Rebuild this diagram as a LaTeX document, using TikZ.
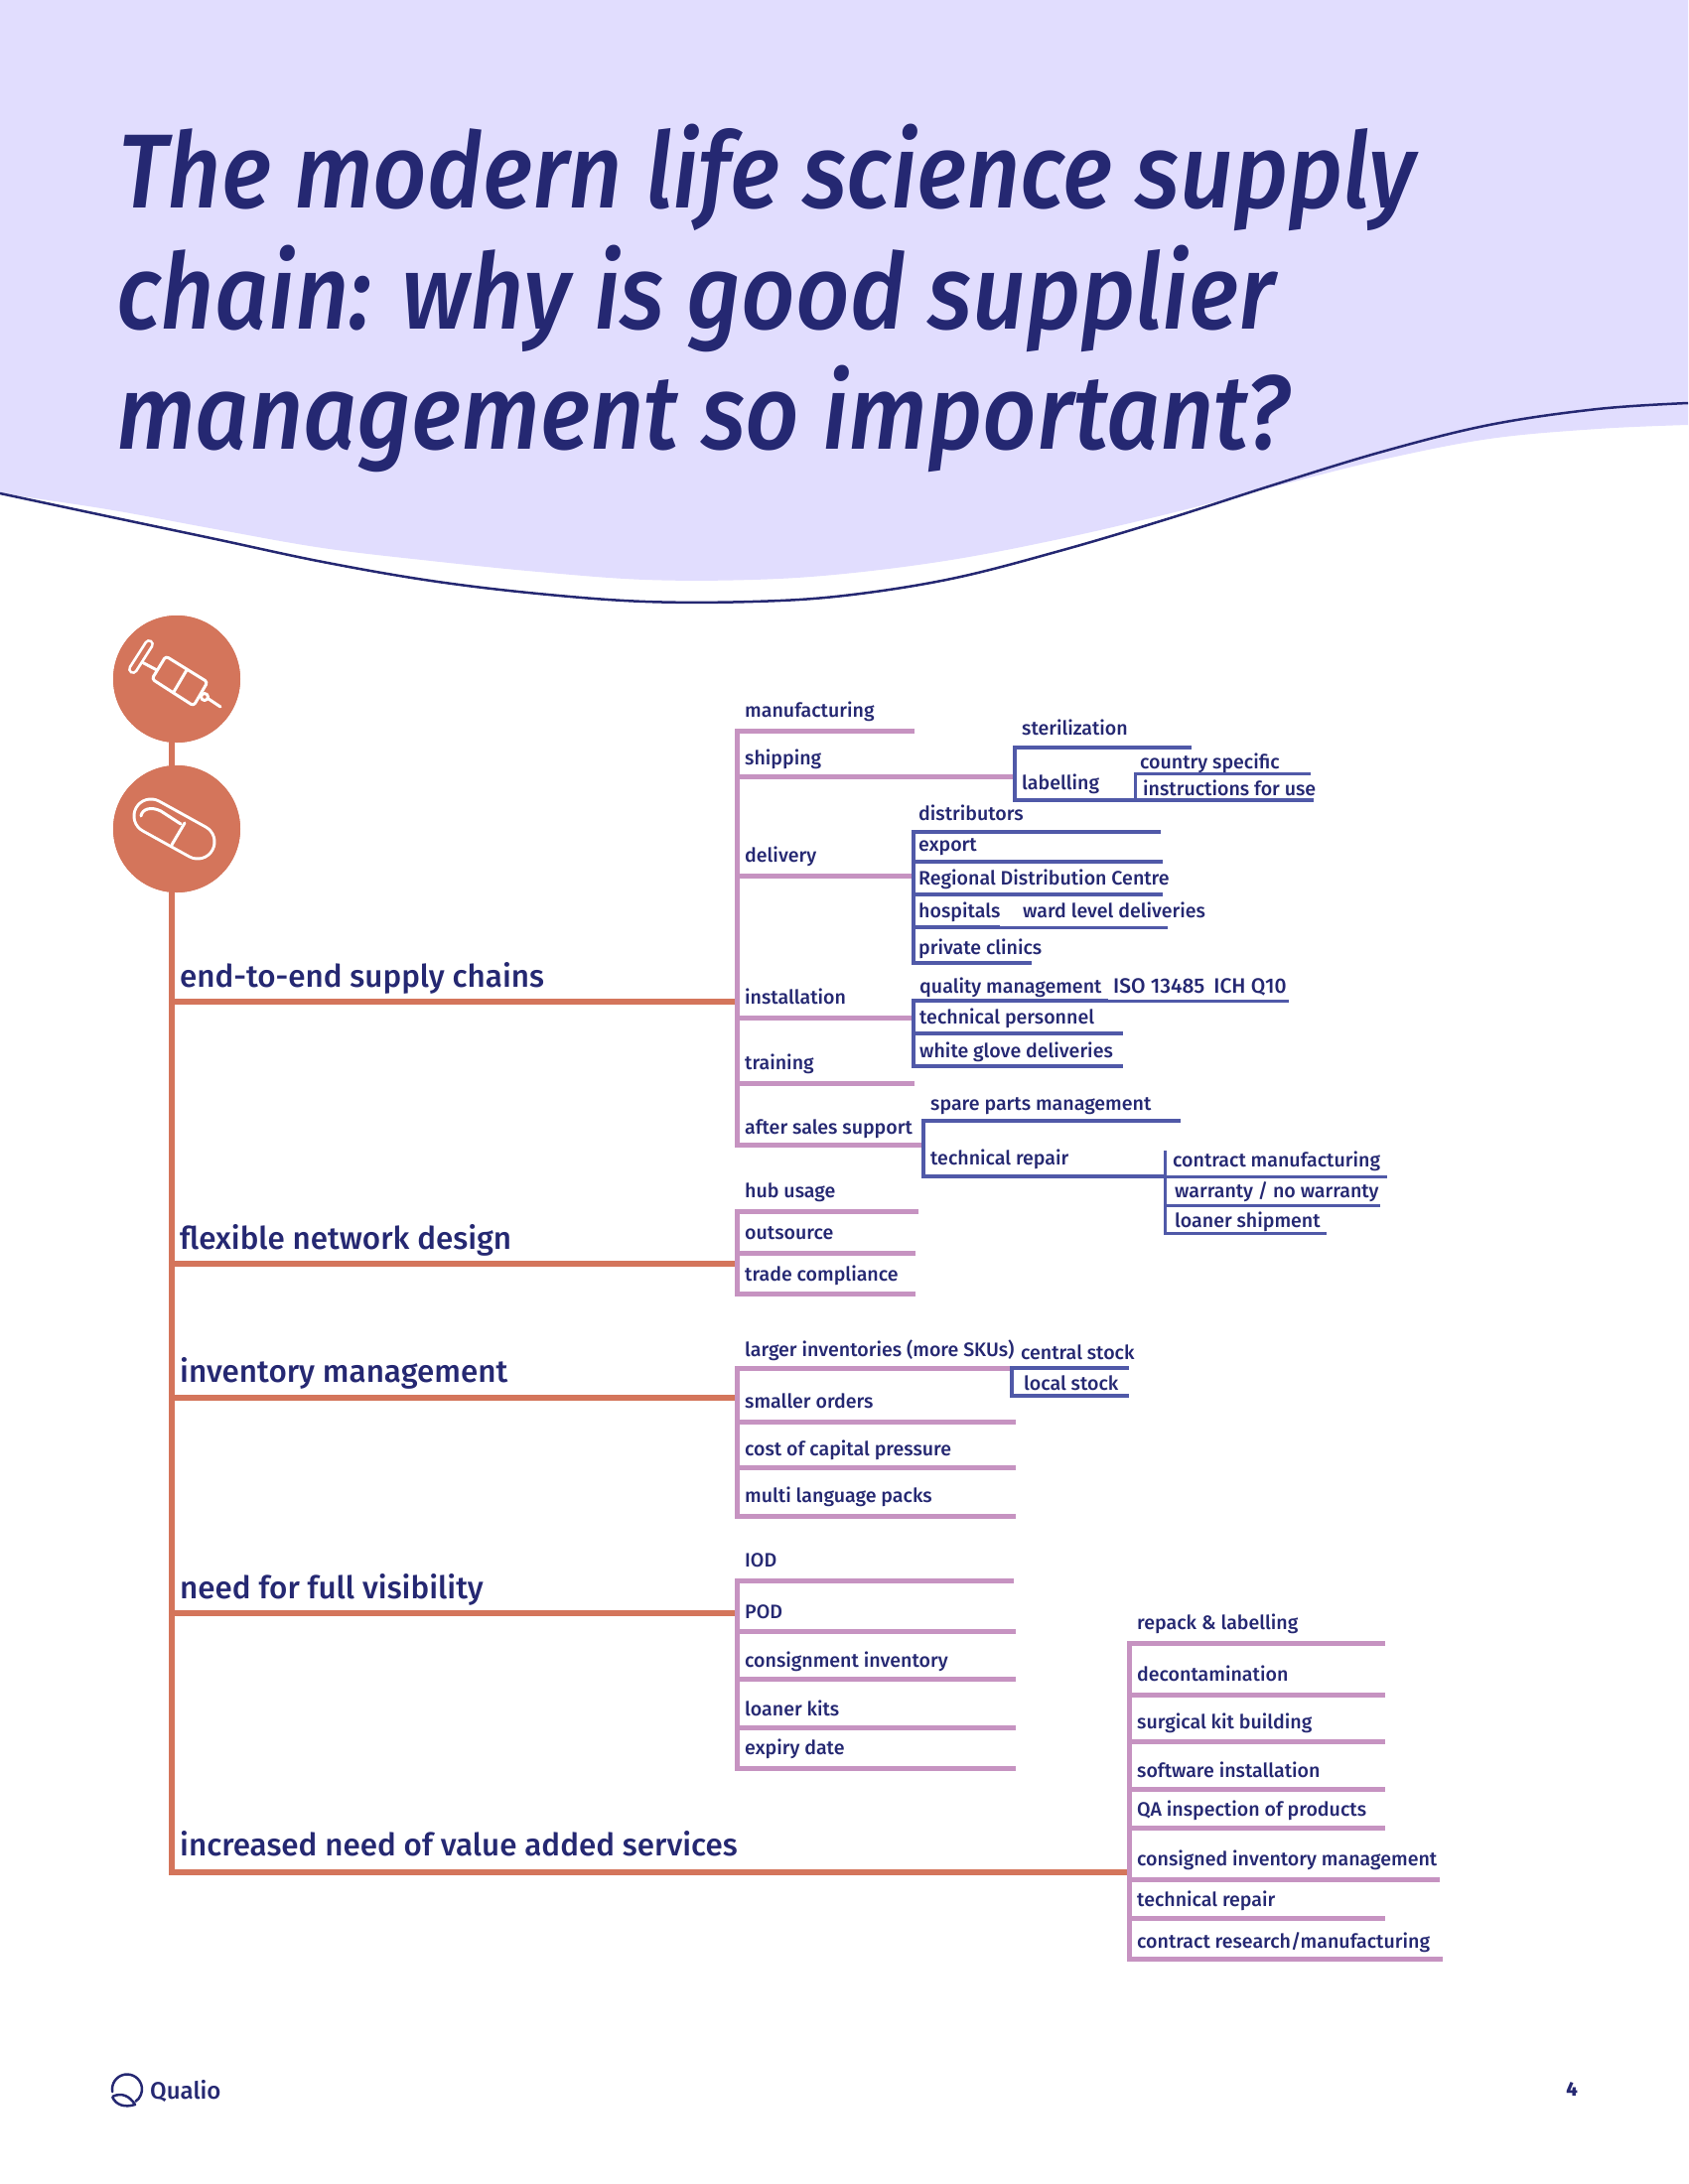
\documentclass[tikz,border=0pt]{standalone}
\usepackage{fontspec}
\setmainfont{Fira Sans Medium}
\newfontfamily\titlef[ItalicFont={Fira Sans Medium Italic},FakeStretch=0.896]{Fira Sans Medium}
\definecolor{lav}{HTML}{E1DDFE}
\definecolor{ink}{HTML}{252872}
\definecolor{org}{HTML}{D4755B}
\definecolor{pur}{HTML}{C693C1}
\definecolor{blu}{HTML}{5059A8}
\tikzset{
  lbl/.style={anchor=base west,inner sep=0pt,text=ink,yshift=0.7pt,font=\fontsize{19.6}{24}\selectfont},
  head/.style={anchor=base west,inner sep=0pt,text=ink,font=\fontsize{31.4}{38}\selectfont},
  ttl/.style={anchor=base west,inner sep=0pt,text=ink,font=\titlef\fontsize{106}{120}\selectfont\itshape},
  po/.style={draw=pur,line width=5pt},
  bl/.style={draw=blu,line width=4.5pt},
  th/.style={draw=blu,line width=3pt},
  orl/.style={draw=org,line width=5.5pt},
  ic/.style={draw=white,line width=3pt,line cap=round,line join=round},
}
% style, name, text x, baseline, text, line x0, line y, line x1
\newcommand\twig[8]{%
  \node[lbl] (#2) at (#3,#4) {#5};
  \coordinate (#2-a) at (#6,#7);
  \coordinate (#2-b) at (#8,#7);
  \draw[#1] (#2-a) -- (#2-b);}
\newcommand\spine[3]{\draw[#1,line cap=rect] (#2) -- (#3);}
\begin{document}
\begin{tikzpicture}[x=1pt,y=-1pt]
\useasboundingbox (0,0) rectangle (1700,2200);
\fill[white] (0,0) rectangle (1700,2200);
% header
\fill[lav] (0,0) -- (0,497) -- plot[smooth,tension=0.6] coordinates {(0,497) (108,513) (217,533) (325,552) (434,565) (542,576) (650,584) (758,584) (850,578) (958,564) (1067,543) (1175,518) (1284,490) (1392,463) (1500,442) (1609,432) (1700,428)} -- (1700,0) -- cycle;
\draw[ink,line width=2.5pt] plot[smooth,tension=0.6] coordinates {(0,497) (108,520) (217,543) (325,566) (434,585) (542,598) (650,606) (758,606) (850,600) (958,583) (1067,555) (1175,523) (1284,488) (1392,455) (1500,428) (1609,412) (1700,406)};
\node[ttl] (t1) at (119,209) {The modern life science supply};
\node[ttl] (t2) at (117,331) {chain: why is good supplier};
\node[ttl] (t3) at (117,452) {management so important?};
% trunk
\node[circle,fill=org,minimum size=128pt,inner sep=0pt] (c1) at (178,684) {};
\node[circle,fill=org,minimum size=128pt,inner sep=0pt] (c2) at (178,835) {};
\coordinate (trunk-top) at (173,700);
\coordinate (b1) at (173,1009);
\coordinate (b2) at (173,1273);
\coordinate (b3) at (173,1408);
\coordinate (b4) at (173,1625);
\coordinate (b5) at (173,1886);
\draw[orl,line cap=rect] (trunk-top) -- (b5);
\fill[org] (c1.center) circle (64);
\fill[org] (c2.center) circle (64);
% syringe
\draw[ic,rounded corners=3pt] (167,661) -- (209,687) -- (195,711) -- (153,684) -- cycle;
\draw[ic] (188,675) -- (175,697);
\draw[ic] (143,667) -- (158,675);
\draw[white,line width=10pt,line cap=round] (150,649) -- (134,674);
\draw[org,line width=4.5pt,line cap=round] (150,649) -- (134,674);
\draw[ic] (206,702) circle (3.5);
\draw[ic] (210,704) -- (222,712);
% capsule
\draw[white,line width=37pt,line cap=round] (152,822) -- (199,848);
\draw[org,line width=31pt,line cap=round] (152,822) -- (199,848);
\draw[ic] (186,829) -- (173,851);
\draw[ic] (142,822) .. controls (143,815) and (152,812) .. (162,817) -- (182,830);
\begin{scope}[shift={(1,1)}]
% heads
\node[head] (h1) at (180,993) {end-to-end supply chains};
\node[head] (h2) at (180,1257) {flexible network design};
\node[head] (h3) at (180,1391) {inventory management};
\node[head] (h4) at (180,1609) {need for full visibility};
\node[head] (h5) at (180,1868) {increased need of value added services};
\coordinate (j1) at (741,1008);
\coordinate (j2) at (741,1272);
\coordinate (j3) at (741,1407);
\coordinate (j4) at (741,1624);
\coordinate (j5) at (1136,1885);
\draw[orl] (b1) -- (j1);
\draw[orl] (b2) -- (j2);
\draw[orl] (b3) -- (j3);
\draw[orl] (b4) -- (j4);
\draw[orl] (b5) -- (j5);
% group 1
\twig{po}{a1}{749}{722}{manufacturing}{741}{735}{920}
\twig{po}{a2}{749}{770}{shipping}{741}{781}{1021}
\twig{po}{a3}{749}{868}{delivery}{741}{881}{919}
\twig{po}{a4}{749}{1011}{installation}{741}{1024}{919}
\twig{po}{a5}{749}{1077}{training}{741}{1090}{920}
\twig{po}{a6}{749}{1142}{after sales support}{741}{1152}{929}
\spine{po}{a1-a}{a6-a}
% shipping
\twig{bl}{s1}{1028}{740}{sterilization}{1021}{752}{1199}
\twig{bl}{s2}{1028}{795}{labelling}{1021}{805}{1322}
\spine{bl}{s1-a}{s2-a}
\twig{th}{s3}{1147}{774}{country specific}{1142}{778}{1319}
\node[lbl] (s4) at (1150,801) {instructions for use};
\coordinate (s4-a) at (1142,805);
\spine{th}{s3-a}{s4-a}
% delivery
\twig{bl}{d1}{924}{826}{distributors}{919}{837}{1168}
\twig{bl}{d2}{924}{857}{export}{919}{867}{1170}
\twig{bl}{d3}{924}{891}{Regional Distribution Centre}{919}{900}{1170}
\twig{bl}{d4}{924}{924}{hospitals}{919}{933}{1006}
\twig{th}{d5}{1029}{924}{ward level deliveries}{1006}{933}{1175}
\twig{bl}{d6}{924}{961}{private clinics}{919}{969}{1038}
\spine{bl}{d1-a}{d6-a}
% installation
\twig{bl}{i1}{925}{1000}{quality management}{919}{1007}{1115}
\twig{th}{i2}{1120}{1000}{\fontsize{21}{24}\selectfont ISO 13485\hspace{9pt}ICH Q10}{1115}{1007}{1297}
\twig{bl}{i3}{925}{1031}{technical personnel}{919}{1040}{1130}
\twig{bl}{i4}{925}{1065}{white glove deliveries}{919}{1073}{1130}
\spine{bl}{i1-a}{i4-a}
% after sales
\twig{bl}{r1}{936}{1118}{spare parts management}{929}{1128}{1188}
\twig{bl}{r2}{936}{1173}{technical repair}{929}{1184}{1172}
\spine{bl}{r1-a}{r2-a}
\twig{th}{r3}{1180}{1175}{contract manufacturing}{1172}{1184}{1396}
\twig{th}{r4}{1182}{1206}{warranty / no warranty}{1172}{1213}{1389}
\twig{th}{r5}{1182}{1236}{loaner shipment}{1172}{1241}{1335}
\coordinate (r0) at (1172,1159);
\spine{th}{r0}{r5-a}
% group 2
\twig{po}{f1}{749}{1206}{hub usage}{741}{1219}{924}
\twig{po}{f2}{749}{1248}{outsource}{741}{1261}{921}
\twig{po}{f3}{749}{1290}{trade compliance}{741}{1302}{921}
\spine{po}{f1-a}{f3-a}
% group 3
\twig{po}{n1}{749}{1366}{larger inventories (more SKUs)}{741}{1377}{1018}
\twig{po}{n2}{749}{1418}{smaller orders}{741}{1431}{1022}
\twig{po}{n3}{749}{1466}{cost of capital pressure}{741}{1477}{1022}
\twig{po}{n4}{749}{1513}{multi language packs}{741}{1526}{1022}
\spine{po}{n1-a}{n4-a}
\twig{bl}{n5}{1027}{1369}{central stock}{1018}{1377}{1136}
\twig{bl}{n6}{1030}{1400}{local stock}{1018}{1405}{1136}
\spine{bl}{n5-a}{n6-a}
% group 4
\twig{po}{v1}{749}{1578}{IOD}{741}{1591}{1020}
\twig{po}{v2}{749}{1630}{POD}{741}{1642}{1022}
\twig{po}{v3}{749}{1679}{consignment inventory}{741}{1690}{1022}
\twig{po}{v4}{749}{1728}{loaner kits}{741}{1739}{1022}
\twig{po}{v5}{749}{1767}{expiry date}{741}{1780}{1022}
\spine{po}{v1-a}{v5-a}
% group 5
\twig{po}{w1}{1144}{1641}{repack \& labelling}{1136}{1654}{1394}
\twig{po}{w2}{1144}{1693}{decontamination}{1136}{1706}{1394}
\twig{po}{w3}{1144}{1741}{surgical kit building}{1136}{1753}{1394}
\twig{po}{w4}{1144}{1790}{software installation}{1136}{1801}{1394}
\twig{po}{w5}{1144}{1829}{QA inspection of products}{1136}{1840}{1394}
\twig{po}{w6}{1144}{1879}{consigned inventory management}{1136}{1892}{1449}
\twig{po}{w7}{1144}{1920}{technical repair}{1136}{1931}{1394}
\twig{po}{w8}{1144}{1962}{contract research/manufacturing}{1136}{1972}{1452}
\spine{po}{w1-a}{w8-a}
\end{scope}
% footer
\draw[ink,line width=2.5pt,line cap=round] (113.2,2107.1) arc (170:415:15);
\draw[ink,line width=2.5pt,line join=round] (113,2112) .. controls (123,2107) and (131,2112) .. (136,2120) .. controls (126,2123) and (117,2121) .. (113,2112);
\node[anchor=base west,inner sep=0pt,text=ink,font=\fontsize{24}{30}\selectfont] (logo) at (151,2114) {Qualio};
\node[anchor=base,inner sep=0pt,text=ink,font=\fontsize{20}{22}\selectfont\bfseries] (pg) at (1583,2111) {4};
\end{tikzpicture}
\end{document}
